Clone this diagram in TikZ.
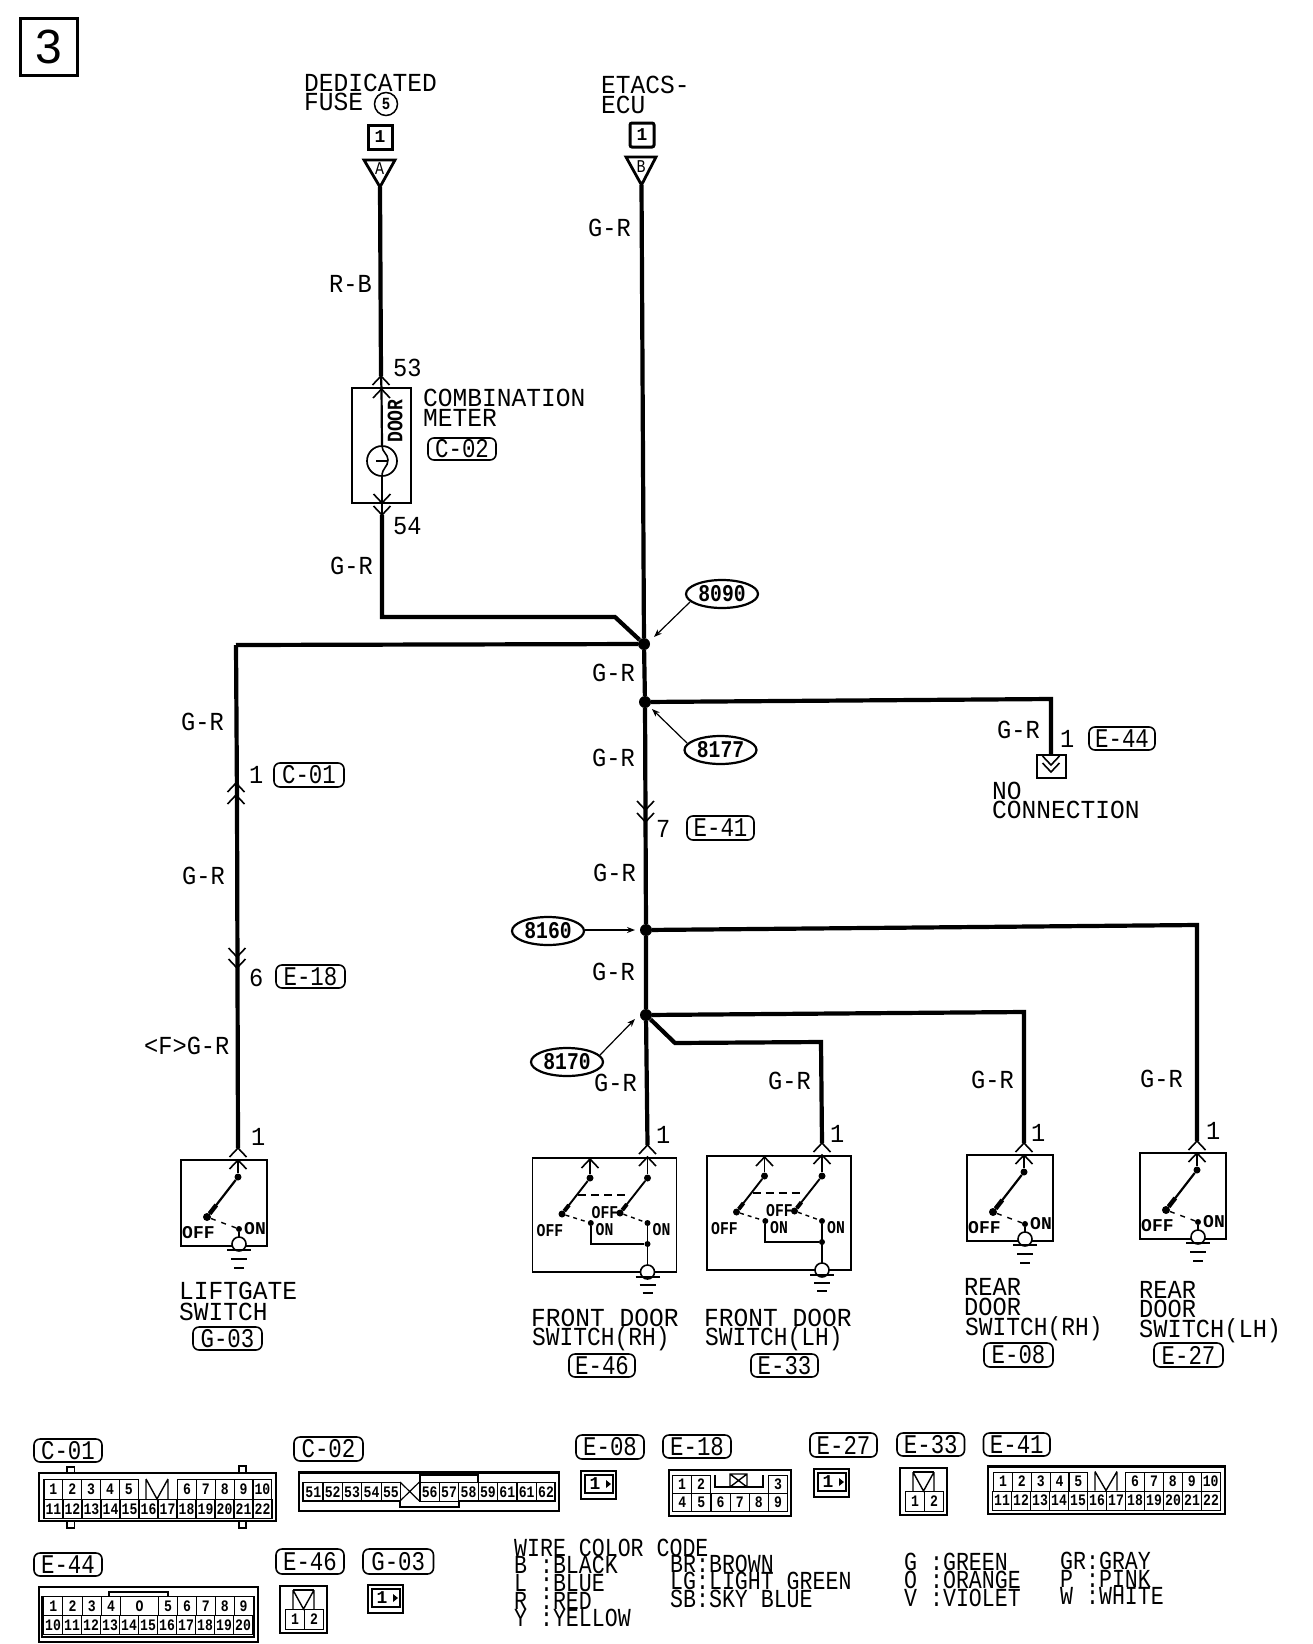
\documentclass[tikz,border=0pt]{standalone}
\usepackage{fontspec}
\usetikzlibrary{shapes.geometric,arrows.meta,calc}
\newfontfamily\fLbl[FakeStretch=0.91]{Liberation Mono}
\newfontfamily\fHead[FakeStretch=0.945]{Liberation Mono}
\newfontfamily\fSw[FakeStretch=0.88]{Liberation Mono}
\newfontfamily\fCode[FakeStretch=0.83]{Liberation Mono}
\newfontfamily\fBold[FakeStretch=0.82]{Liberation Mono Bold}
\newfontfamily\fWide{Liberation Mono Bold}
\newfontfamily\fBig{Liberation Sans}
\tikzset{
  wire/.style={line width=4.2pt,line join=miter},
  boxline/.style={line width=1.9pt},
  leader/.style={line width=1.2pt,-{Stealth[length=8pt,width=6pt]}},
  dotnode/.style={circle,fill=black,inner sep=0,minimum size=#1},
  txt/.style={anchor=base west,inner sep=0,font=\fLbl\fontsize{26}{26}\selectfont},
  headtxt/.style={anchor=base west,inner sep=0,font=\fHead\fontsize{26}{26}\selectfont},
  swtxt/.style={anchor=base west,inner sep=0,font=\fSw\fontsize{26}{26}\selectfont},
  codetxt/.style={anchor=base west,inner sep=0,font=\fCode\fontsize{26}{26}\selectfont},
  onetxt/.style={inner sep=0,font=\fWide\fontsize{18}{18}\selectfont},
  swA/.style={anchor=base west,inner sep=0,font=\fWide\fontsize{18}{18}\selectfont},
  swB/.style={anchor=base west,inner sep=0,font=\fBold\fontsize{18}{18}\selectfont},
  tagbox/.style={draw,rounded corners=6pt,line width=1.6pt,inner sep=0,font=\fCode\fontsize{27}{27}\selectfont},
  oval/.style={draw,ellipse,line width=2.2pt,inner sep=0,minimum width=72pt,minimum height=28pt,font=\fBold\fontsize{24}{24}\selectfont},
  cell/.style={draw,line width=1.2pt,inner sep=0,anchor=north west,font=\fBold\fontsize{16}{16}\selectfont},
  frame/.style={line width=2.2pt},
}
\newcommand{\chevU}[2]{\draw[line width=1.6pt] (#1-8.5,#2+9) -- (#1,#2) -- (#1+8.5,#2+9);}
\newcommand{\chevD}[2]{\draw[line width=1.6pt] (#1-8.5,#2-9) -- (#1,#2) -- (#1+8.5,#2-9);}
\newcommand{\tagnode}[6]{\node[tagbox,minimum width={(#4-#2)*1pt},minimum height={(#5-#3)*1pt}] (#1) at ({(#2+#4)/2},{(#3+#5)/2}) {#6};}
\newcommand{\cellrow}[7]{\foreach \t [count=\i from 0] in {#7} {\node[cell,minimum width=#5pt,minimum height=#6pt] (#1\i) at ({#2+\i*#5},#3) {\t};}}
\newcommand{\keyV}[4]{\draw[line width=1.4pt] (#1,#3) -- (#1,#4) (#2,#3) -- (#2,#4) (#1,#3) -- ({(#1+#2)/2},#4) -- (#2,#3);}
\newcommand{\ground}[4]{%
  \draw[line width=1.9pt] (#2-12,#3) -- (#2+12,#3) (#2-8,#3+#4) -- (#2+8,#3+#4) (#2-5,#3+2*#4) -- (#2+5,#3+2*#4);
  \coordinate (#1) at (#2,#3);}
\newcommand{\oneswitch}[3]{
  \begin{scope}[shift={(#2,#3)}]
    \draw[boxline] (-57,0) rectangle (29,86);
    \coordinate (#1in) at (0,-12);
    \coordinate (#1c) at (1,84);
    \node[dotnode=7pt] (#1top) at (0,17) {};
    \node[dotnode=8pt] (#1off) at (-31,57) {};
    \node[dotnode=6pt] (#1on) at (1,69) {};
    \draw[line width=1.6pt] (0,0) -- (#1top);
    \draw[line width=2.2pt] (#1top) -- (#1off);
    \draw[line width=4.5pt] ($(#1off)!0.3!(#1top)$) -- (#1off);
    \draw[line width=1.4pt,dash pattern=on 5pt off 6pt] (#1off) -- (#1on);
    \draw[line width=1.8pt] (#1on) -- (#1c);
    \draw[line width=1.6pt,fill=white] (#1c) circle (7);
    \chevU{0}{-12}\chevU{0}{0}
    \ground{#1g}{1}{90}{9}
    \node[swA] (#1OFF) at (-56,78) {OFF};
    \node[swA] (#1ON) at (6,74) {ON};
  \end{scope}}
\newcommand{\twoswitch}[3]{
  \begin{scope}[shift={(#2,#3)}]
    \draw[boxline] (-115,0) rectangle (29,114);
    \coordinate (#1in) at (0,-13);
    \coordinate (#1c) at (0,114);
    \node[dotnode=7pt] (#1t1) at (-57.5,20) {};
    \node[dotnode=7pt] (#1t2) at (0,20) {};
    \node[dotnode=7pt] (#1o1) at (-85.5,56) {};
    \node[dotnode=7pt] (#1o2) at (-27.5,55) {};
    \node[dotnode=6pt] (#1n1) at (-56.7,65) {};
    \node[dotnode=6pt] (#1n2) at (0,65) {};
    \node[dotnode=6pt] (#1m) at (0,86) {};
    \draw[line width=1.6pt] (-57.5,0) -- (#1t1);
    \draw[line width=1.6pt] (0,0) -- (#1t2);
    \draw[line width=1.9pt] (#1t1) -- (#1o1);
    \draw[line width=1.9pt] (#1t2) -- (#1o2);
    \draw[line width=4pt] ($(#1o1)!0.25!(#1t1)$) -- (#1o1);
    \draw[line width=4pt] ($(#1o2)!0.25!(#1t2)$) -- (#1o2);
    \draw[line width=1.8pt,dash pattern=on 8pt off 5pt] (-69.5,37) -- (-18,37);
    \draw[line width=1.4pt,dash pattern=on 4pt off 4pt] (#1o1) -- (#1n1);
    \draw[line width=1.4pt,dash pattern=on 4pt off 4pt] (#1o2) -- (#1n2);
    \draw[line width=1.9pt] (#1n1) |- (#1m);
    \draw[line width=1.6pt] (#1n2) -- (#1c);
    \draw[line width=1.6pt,fill=white] (#1c) circle (7);
    \chevU{-57.5}{1}\chevU{0}{-13}\chevU{0}{-1}
    \ground{#1g}{0}{119}{8}
    \node[swB] (#1OFFa) at (-111,78) {OFF};
    \node[swB] (#1OFFb) at (-56,60) {OFF};
    \node[swB] (#1ONa) at (-52,77) {ON};
    \node[swB] (#1ONb) at (5,77) {ON};
  \end{scope}}
\newcommand{\onebox}[3]{
  \begin{scope}[shift={(#2,#3)}]
    \draw[frame] (0,0) rectangle (35,28);
    \draw[line width=1.4pt] (4,4) rectangle (32,22);
    \node[onetxt] (#1n) at (14,13) {1};
    \fill (25,9) -- (30,13) -- (25,17) -- cycle;
  \end{scope}}
\newcommand{\twobox}[3]{
  \begin{scope}[shift={(#2,#3)}]
    \draw[frame] (0,0) rectangle (47,47);
    \keyV{13}{34}{4}{23}
    \draw[line width=1.4pt] (13,4) -- (34,4);
    \cellrow{#1c}{5}{23}{43}{19}{20}{1,2}
  \end{scope}}
\begin{document}
\begin{tikzpicture}[x=1pt,y=-1pt]
\useasboundingbox (0,0) rectangle (1312,1644);
\fill[white] (0,0) rectangle (1312,1644);

\node[draw,line width=3.4pt,minimum size=57pt,inner sep=0,font=\fBig\fontsize{48}{48}\selectfont] (page) at (49,47) {3};

\node[headtxt] (dedicated) at (304,91) {DEDICATED};
\node[headtxt] (fuse) at (304,110) {FUSE};
\node[draw,circle,line width=1.5pt,minimum size=23pt,inner sep=0,font=\fBold\fontsize{17}{17}\selectfont] (fuseno) at (386,104) {5};
\node[draw,line width=3pt,minimum size=24pt,inner sep=0,font=\fWide\fontsize{18}{18}\selectfont] (oneA) at (380,137) {1};
\node[headtxt] (etacs) at (601,93) {ETACS-};
\node[headtxt] (ecu) at (601,113) {ECU};
\node[draw,line width=3pt,rounded corners=2pt,minimum size=24pt,inner sep=0,font=\fWide\fontsize{18}{18}\selectfont] (oneB) at (642,135) {1};
\coordinate (tipA) at (380,187);
\coordinate (tipB) at (641.5,185);
\draw[line width=2.8pt,line join=miter] (364,160) -- (395,160) -- (tipA) -- cycle;
\draw[line width=2.8pt,line join=miter] (626,157) -- (656,157) -- (tipB) -- cycle;
\node[inner sep=0,font=\fCode\fontsize{18}{18}\selectfont] (letA) at (379.5,169) {A};
\node[inner sep=0,font=\fCode\fontsize{18}{18}\selectfont] (letB) at (641,167) {B};

\node[dotnode=12pt] (jA) at (644,644) {};
\node[dotnode=12pt] (jB) at (645,702) {};
\node[dotnode=12pt] (jC) at (646,930) {};
\node[dotnode=12pt] (jD) at (646,1015) {};

\coordinate (m53) at (381,376);
\coordinate (m53b) at (381.5,389);
\coordinate (m54) at (382,503);
\coordinate (m54b) at (382,515);
\node[draw,circle,line width=1.7pt,minimum size=30pt,inner sep=0] (lamp) at (382,461) {};
\draw[boxline] (352,388) rectangle (411,503);
\draw[wire] (tipA) -- (m53);
\draw[line width=2.2pt] (m53) -- (m53b) -- (lamp.north);
\draw[line width=2.8pt] (lamp.south) -- (m54b);
\draw[line width=1.6pt] (382,446) .. controls (382,452) and (388,454) .. (388,460) .. controls (388,467) and (382,468) .. (382,476);
\draw[line width=1.6pt] (376,461) -- (388,461);
\chevU{381}{376}\chevU{381.5}{389}\chevD{382}{503}\chevD{382}{515}
\node[inner sep=0,rotate=90,font=\fBold\fontsize{22}{22}\selectfont] (door) at (395,421) {DOOR};
\node[headtxt] (comb) at (423,406) {COMBINATION};
\node[headtxt] (meter) at (423,426) {METER};
\tagnode{tC02a}{428}{438}{496}{460}{C-02}

\coordinate (corner1) at (382,617);
\coordinate (corner1b) at (615,617);
\draw[wire] (m54b) -- (corner1) -- (corner1b) -- (jA);
\draw[wire] (tipB) -- (jA) -- (jB) -- (jC) -- (jD);
\coordinate (leftTop) at (236,645);
\draw[wire] (jA) -- (leftTop);
\coordinate (leftMid) at (237,800);
\coordinate (nc) at (1051,699);
\coordinate (ncEnd) at (1051,755);
\draw[wire] (jB) -- (nc) -- (ncEnd);
\coordinate (rlA) at (1197,925);
\draw[wire] (jC) -- (rlA) -- (1197,1141);
\coordinate (rrA) at (1024,1012);
\draw[wire] (jD) -- (rrA) -- (1024,1143);
\coordinate (dg) at (675,1043);
\coordinate (lhA) at (821,1042);
\draw[wire] (jD) -- (dg) -- (lhA) -- (822,1143);
\draw[wire] (jD) -- (647.5,1145);
\draw[wire] (leftTop) -- (leftMid) -- (238,1148);
\chevU{236}{783}\chevU{236}{795}
\chevD{237}{957}\chevD{237}{968}
\chevD{645.5}{810}\chevD{645.5}{822}

\draw[boxline] (1037,755) rectangle (1066,778);
\chevD{1051}{765}\chevD{1051}{772}

\node[oval] (s090) at (722,594) {8090};
\node[oval] (s177) at (720.5,750) {8177};
\node[oval] (s160) at (548,931) {8160};
\node[oval] (s170) at (567,1062) {8170};
\coordinate (s090a) at (690,602); \coordinate (s090b) at (654,637);
\coordinate (s177a) at (687,743); \coordinate (s177b) at (652,709);
\coordinate (s160a) at (585,930); \coordinate (s160b) at (635,930);
\coordinate (s170a) at (600,1055); \coordinate (s170b) at (635,1019);
\draw[leader] (s090a) -- (s090b);
\draw[leader] (s177a) -- (s177b);
\draw[leader] (s160a) -- (s160b);
\draw[leader] (s170a) -- (s170b);

\node[txt] (w1) at (588,236) {G-R};
\node[txt] (w2) at (329,292) {R-B};
\node[txt] (w3) at (330,574) {G-R};
\node[txt] (w4) at (592,681) {G-R};
\node[txt] (w5) at (592,766) {G-R};
\node[txt] (w6) at (593,881) {G-R};
\node[txt] (w7) at (592,980) {G-R};
\node[txt] (w8) at (594,1091) {G-R};
\node[txt] (w9) at (768,1089) {G-R};
\node[txt] (w10) at (971,1088) {G-R};
\node[txt] (w11) at (1140,1087) {G-R};
\node[txt] (w12) at (997,738) {G-R};
\node[txt] (w13) at (181,730) {G-R};
\node[txt] (w14) at (182,884) {G-R};
\node[txt] (w15) at (144,1054) {<F>G-R};

\node[txt] (p53) at (393,376) {53};
\node[txt] (p54) at (393,534) {54};
\node[txt] (p1a) at (1060,747) {1};
\node[txt] (p7) at (656,837) {7};
\node[txt] (p1b) at (249,783) {1};
\node[txt] (p6) at (249,986) {6};
\node[txt] (p1c) at (251,1145) {1};
\node[txt] (p1d) at (656,1143) {1};
\node[txt] (p1e) at (830,1142) {1};
\node[txt] (p1f) at (1031,1141) {1};
\node[txt] (p1g) at (1206,1139) {1};

\tagnode{tE44a}{1089}{727}{1155}{750}{E-44}
\tagnode{tE41a}{687}{816}{754}{840}{E-41}
\tagnode{tC01a}{274}{763}{344}{787}{C-01}
\tagnode{tE18a}{276}{965}{345}{988}{E-18}
\node[headtxt] (no) at (992,799) {NO};
\node[headtxt] (conn) at (992,818) {CONNECTION};

\oneswitch{lg}{238}{1160}
\twoswitch{fr}{647.5}{1158}
\twoswitch{fl}{822}{1156}
\oneswitch{rr}{1024}{1155}
\oneswitch{rl}{1197}{1153}

\node[headtxt] (lgA) at (179,1299) {LIFTGATE};
\node[headtxt] (lgB) at (179,1320) {SWITCH};
\tagnode{tG03a}{193}{1327}{262}{1350}{G-03}
\node[headtxt] (frA) at (531,1326) {FRONT DOOR};
\node[swtxt] (frB) at (532,1345) {SWITCH(RH)};
\tagnode{tE46a}{569}{1354}{635}{1377}{E-46}
\node[headtxt] (flA) at (704,1326) {FRONT DOOR};
\node[swtxt] (flB) at (705,1345) {SWITCH(LH)};
\tagnode{tE33a}{751}{1354}{818}{1377}{E-33}
\node[txt] (rrT1) at (964,1295) {REAR};
\node[txt] (rrT2) at (964,1315) {DOOR};
\node[swtxt] (rrT3) at (965,1335) {SWITCH(RH)};
\tagnode{tE08a}{984}{1343}{1053}{1367}{E-08}
\node[txt] (rlT1) at (1139,1298) {REAR};
\node[txt] (rlT2) at (1139,1317) {DOOR};
\node[txt] (rlT3) at (1139,1337) {SWITCH(LH)};
\tagnode{tE27a}{1154}{1343}{1223}{1367}{E-27}

% C-01
\tagnode{tC01b}{34}{1439}{102}{1462}{C-01}
\draw[line width=1.8pt] (67,1473) -- (67,1467) -- (74.5,1467) -- (74.5,1473);
\draw[line width=1.8pt] (239,1473) -- (239,1466) -- (246,1466) -- (246,1473);
\draw[line width=1.8pt] (67,1521) -- (67,1528) -- (74.5,1528) -- (74.5,1521);
\draw[line width=1.8pt] (239,1521) -- (239,1528) -- (246,1528) -- (246,1521);
\draw[frame] (39,1473) rectangle (276,1521);
\cellrow{c1a}{43.4}{1479}{0}{18.84}{20}{1,2,3,4,5}
\keyV{146}{168}{1479}{1499}
\cellrow{c1b}{177}{1479}{0}{18.84}{20}{6,7,8,9,10}
\cellrow{c1c}{43.4}{1499}{0}{19}{19}{11,12,13,14,15,16,17,18,19,20,21,22}
% C-02
\tagnode{tC02b}{294}{1437}{363}{1461}{C-02}
\draw[frame] (299,1472.5) rectangle (559,1511);
\draw[line width=1.6pt] (420,1482) -- (420,1475) -- (478,1475) -- (478,1482);
\draw[frame] (400,1500) -- (400,1507) -- (459,1507) -- (459,1500);
\draw[line width=1.2pt] (303,1482) -- (303,1501) -- (400,1501) (459,1501) -- (555,1501) -- (555,1482);
\cellrow{c2a}{303}{1482}{0}{19.4}{19}{51,52,53,54,55}
\draw[line width=1.2pt] (400,1482) -- (419.4,1501) (419.4,1482) -- (400,1501);
\cellrow{c2b}{419.4}{1482}{0}{19.4}{19}{56,57,58,59,61,61,62}
% E-08
\tagnode{tE08b}{576}{1435}{644}{1459}{E-08}
\onebox{e08}{581}{1471}
% E-18
\tagnode{tE18b}{663}{1435}{731}{1458}{E-18}
\draw[frame] (669,1470) rectangle (791,1516);
\cellrow{e18a}{672}{1475}{0}{19}{18}{1,2}
\draw[line width=1.6pt] (715,1475) -- (715,1487) -- (763,1487) -- (763,1475);
\draw[line width=1.4pt] (730,1474) rectangle (747,1487) (730,1474) -- (747,1487) (747,1474) -- (730,1487);
\cellrow{e18b}{768}{1475}{0}{19}{18}{3}
\cellrow{e18c}{672}{1493}{0}{19.17}{18}{4,5,6,7,8,9}
% E-27
\tagnode{tE27b}{810}{1433}{877}{1457}{E-27}
\onebox{e27}{814}{1469}
% E-33
\tagnode{tE33b}{897}{1433}{964.5}{1456}{E-33}
\twobox{e33}{900}{1468}
% E-41
\tagnode{tE41b}{983.5}{1433}{1050}{1456}{E-41}
\draw[frame] (988,1466.5) rectangle (1225,1514);
\cellrow{e41a}{993}{1471.5}{0}{18.84}{19}{1,2,3,4,5}
\keyV{1095}{1117}{1471.5}{1490.5}
\cellrow{e41b}{1125}{1471.5}{0}{18.9}{19}{6,7,8,9,10}
\cellrow{e41c}{992}{1490.5}{0}{19}{19}{11,12,13,14,15,16,17,18,19,20,21,22}
% E-44
\tagnode{tE44b}{34}{1553}{102}{1576}{E-44}
\draw[frame] (39,1587) rectangle (257.6,1642);
\draw[line width=1.2pt] (42,1596) -- (42,1637) -- (254,1637) -- (254,1596);
\draw[line width=1.6pt] (109,1596) -- (109,1592) -- (168,1592) -- (168,1596);
\cellrow{e44a}{43}{1596}{0}{19.25}{19}{1,2,3,4}
\node[cell,minimum width=38pt,minimum height=19pt] (e44o) at (120,1596) {O};
\cellrow{e44b}{158}{1596}{0}{18.9}{19}{5,6,7,8,9}
\cellrow{e44c}{43}{1615}{0}{19}{19}{10,11,12,13,14,15,16,17,18,19,20}
% E-46
\tagnode{tE46b}{276}{1549}{344}{1574}{E-46}
\twobox{e46}{280}{1586}
% G-03
\tagnode{tG03b}{363}{1549}{433.5}{1574}{G-03}
\onebox{g03}{368}{1585}

% wire colour code
\node[codetxt] (cc0) at (514,1556) {WIRE COLOR CODE};
\node[codetxt] (cc1) at (514,1573) {B :BLACK};
\node[codetxt] (cc2) at (514,1591) {L :BLUE};
\node[codetxt] (cc3) at (514,1609) {R :RED};
\node[codetxt] (cc4) at (514,1626) {Y :YELLOW};
\node[codetxt] (cc5) at (670,1572) {BR:BROWN};
\node[codetxt] (cc6) at (670,1589) {LG:LIGHT GREEN};
\node[codetxt] (cc7) at (670,1607) {SB:SKY BLUE};
\node[codetxt] (cc8) at (904,1570) {G :GREEN};
\node[codetxt] (cc9) at (904,1588) {O :ORANGE};
\node[codetxt] (cc10) at (904,1606) {V :VIOLET};
\node[codetxt] (cc11) at (1060,1569) {GR:GRAY};
\node[codetxt] (cc12) at (1060,1587) {P :PINK};
\node[codetxt] (cc13) at (1060,1604) {W :WHITE};
\end{tikzpicture}
\end{document}
